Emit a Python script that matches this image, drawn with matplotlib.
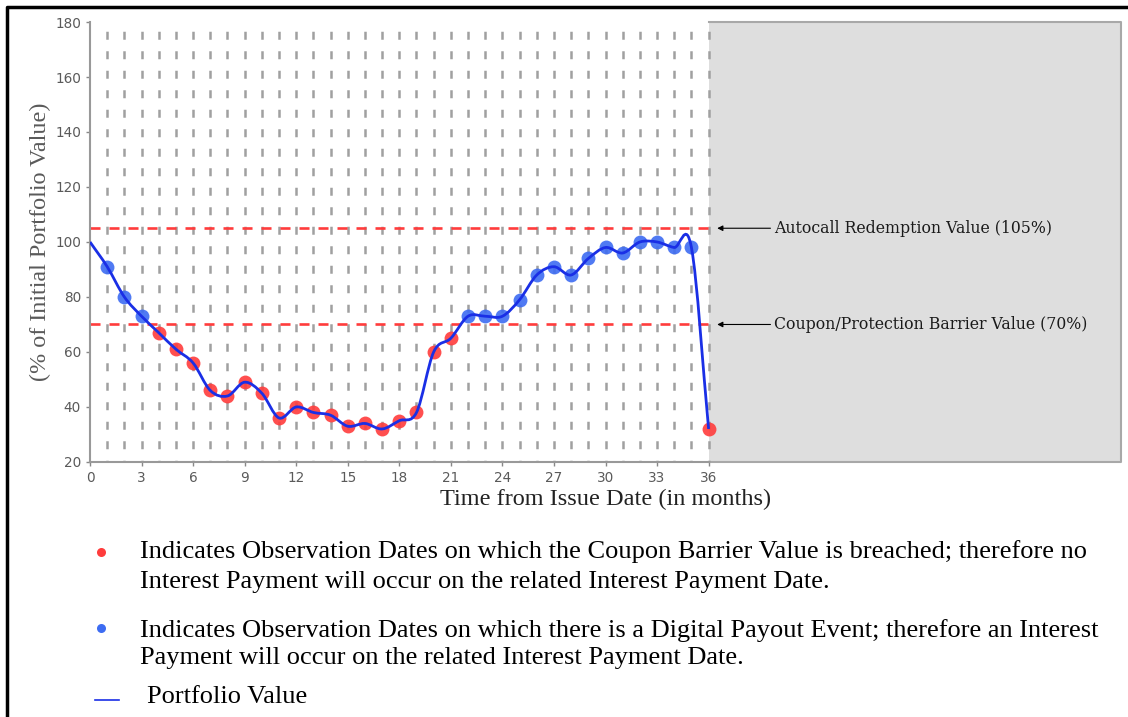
import matplotlib
matplotlib.use("Agg")
import matplotlib.pyplot as plt
from matplotlib.path import Path
from matplotlib.patches import PathPatch
from matplotlib.lines import Line2D
import numpy as np

# observation months and portfolio value (% of initial)
months = list(range(0, 37))
values = [100, 91, 80, 73, 67, 61, 56, 46, 44, 49, 45, 36, 40, 38, 37, 33, 34, 32,
          35, 38, 60, 65, 73, 73, 73, 79, 88, 91, 88, 94, 98, 96, 100, 100, 98, 98, 32]
autocall_level = 105
barrier_level = 70
x_ticks = list(range(0, 37, 3))
y_ticks = list(range(20, 181, 20))

red = '#ff3c3c'
blue = '#3d6cf2'
line_blue = '#1a2fe6'
grey_txt = '#5a5a5a'


def smooth_path(xs, ys):
    # catmull-rom style bezier through the points
    xs = np.asarray(xs, float)
    ys = np.asarray(ys, float)
    n = len(xs)
    m = np.zeros(n)
    m[0] = (ys[1] - ys[0]) / (xs[1] - xs[0])
    m[-1] = (ys[-1] - ys[-2]) / (xs[-1] - xs[-2])
    for i in range(1, n - 1):
        m[i] = (ys[i + 1] - ys[i - 1]) / (xs[i + 1] - xs[i - 1])
    verts = [(xs[0], ys[0])]
    codes = [Path.MOVETO]
    for i in range(n - 1):
        dx = xs[i + 1] - xs[i]
        verts += [(xs[i] + dx / 3, ys[i] + m[i] * dx / 3),
                  (xs[i + 1] - dx / 3, ys[i + 1] - m[i + 1] * dx / 3),
                  (xs[i + 1], ys[i + 1])]
        codes += [Path.CURVE4] * 3
    return Path(verts, codes)


fig = plt.figure(figsize=(11.28, 7.17), dpi=100)
ax = fig.add_axes([0.0798, 0.3557, 0.9140, 0.6136])
ax.set_xlim(0, 60)
ax.set_ylim(20, 180)

# shaded region after maturity
ax.axvspan(36, 60, facecolor='#dedede', edgecolor='none', zorder=0)
ax.plot([36, 60, 60, 36], [180, 180, 20, 20], color='#a8a8a8', lw=1.5, zorder=1, clip_on=False)

# dashed vertical grid for each month
ax.vlines(months[1:], 20, 180, colors='#a0a0a0', linewidth=1.8,
          linestyles=(2.5, (3.2, 4.6)), zorder=1)

# barrier lines
ax.hlines([autocall_level, barrier_level], 0, 36, colors=red, linewidth=1.9,
          linestyles=(0, (3.8, 3.4)), zorder=2)

# portfolio curve
ax.add_patch(PathPatch(smooth_path(months, values), fill=False, edgecolor=line_blue,
                       lw=2.0, zorder=4))

obs_x = np.array(months[1:])
obs_y = np.array(values[1:])
hit = obs_y >= barrier_level
ax.plot(obs_x[hit], obs_y[hit], 'o', color=blue, ms=10, alpha=0.9, mec='none', zorder=3)
ax.plot(obs_x[~hit], obs_y[~hit], 'o', color=red, ms=10, alpha=0.9, mec='none', zorder=3)

# annotations
for lvl, txt in [(autocall_level, 'Autocall Redemption Value (105%)'),
                 (barrier_level, 'Coupon/Protection Barrier Value (70%)')]:
    ax.annotate('', xy=(36.5, lvl), xytext=(39.6, lvl),
                arrowprops=dict(arrowstyle='-|>', color='black', lw=0.8,
                                mutation_scale=8, shrinkA=0, shrinkB=0))
    ax.text(39.8, lvl, txt, va='center', ha='left', fontsize=11.3,
            family='DejaVu Serif', color='#1a1a1a')

ax.set_xticks(x_ticks)
ax.set_yticks(y_ticks)
ax.tick_params(axis='both', colors='#888888', labelcolor=grey_txt, labelsize=9.8,
               length=3, width=1)
for s in ['top', 'right']:
    ax.spines[s].set_visible(False)
ax.spines['left'].set_color('#999999')
ax.spines['bottom'].set_color('#999999')
ax.spines['left'].set_linewidth(1.5)
ax.spines['bottom'].set_linewidth(1.5)
ax.spines['bottom'].set_bounds(0, 36)

ax.set_xlabel('Time from Issue Date (in months)', family='Liberation Serif',
              fontsize=17.5, color='#222222', labelpad=3)
ax.set_ylabel('(% of Initial Portfolio Value)', family='Liberation Serif',
              fontsize=17.4, color=grey_txt)
ax.yaxis.set_label_coords(-0.038, 0.5)

# legend notes below the chart
note_font = dict(family='Liberation Serif', fontsize=19, color='black', va='center', ha='left')
fig.text(0.1241, 0.2315, 'Indicates Observation Dates on which the Coupon Barrier Value is breached; therefore no', **note_font)
fig.text(0.1241, 0.1883, 'Interest Payment will occur on the related Interest Payment Date.', **note_font)
fig.text(0.1241, 0.1213, 'Indicates Observation Dates on which there is a Digital Payout Event; therefore an Interest', **note_font)
fig.text(0.1241, 0.0823, 'Payment will occur on the related Interest Payment Date.', **note_font)
fig.text(0.1303, 0.0279, 'Portfolio Value', **note_font)

fig.add_artist(Line2D([0.0895], [0.2301], marker='o', color=red, ms=6.5, mec='none'))
fig.add_artist(Line2D([0.0895], [0.1241], marker='o', color=blue, ms=6.5, mec='none'))
fig.add_artist(Line2D([0.0842, 0.1055], [0.0237, 0.0237], color=line_blue, lw=1.2))

# page frame (top and left)
fig.add_artist(Line2D([0.0062, 0.0062, 1.0], [0.0, 0.9902, 0.9902], color='black', lw=2.5))

fig.savefig('out.png', dpi=100)
